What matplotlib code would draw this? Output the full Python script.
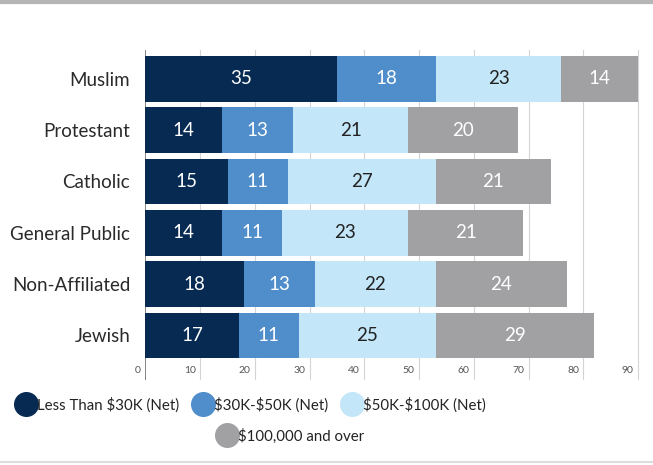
import matplotlib.pyplot as plt
from matplotlib.lines import Line2D

# Daten
groups = ["Muslim", "Protestant", "Catholic", "General Public", "Non-Affiliated", "Jewish"]
under_30k = [35, 14, 15, 14, 18, 17]
k30_50 = [18, 13, 11, 11, 13, 11]
k50_100 = [23, 21, 27, 23, 22, 25]
over_100k = [14, 20, 21, 21, 24, 29]
series_names = ["Less Than $30K (Net)", "$30K-$50K (Net)", "$50K-$100K (Net)", "$100,000 and over"]
ticks = [0, 10, 20, 30, 40, 50, 60, 70, 80, 90]

colors = ["#072a52", "#4f8dcb", "#c3e6f9", "#a1a1a4"]
text_colors = ["white", "white", "#222222", "white"]

plt.rcParams["font.family"] = ["Lato", "DejaVu Sans"]
plt.rcParams["text.parse_math"] = False

fig = plt.figure(figsize=(6.53, 4.65), dpi=100)
ax = fig.add_axes([0.2228, 0.1828, 0.767, 0.7097])

series = [under_30k, k30_50, k50_100, over_100k]
ypos = list(range(len(groups)))
left = [0] * len(groups)
for vals, col, tcol, name in zip(series, colors, text_colors, series_names):
    ax.barh(ypos, vals, left=left, height=0.89, color=col, label=name, zorder=2)
    for y, v, l in zip(ypos, vals, left):
        ax.text(l + v / 2, y, str(v), ha="center", va="center", color=tcol, fontsize=13.5, zorder=3)
    left = [a + b for a, b in zip(left, vals)]

# Gitter und Achse
for t in ticks:
    ax.axvline(t, color="#7a7a7a" if t == 0 else "#d4d4d4", lw=1.3 if t == 0 else 0.8, zorder=1)
    ax.text(t - 0.8, 5.69, str(t), ha="right", va="center", fontsize=7.5, color="#555555")

ax.set_xlim(0, 91.5)
ax.set_ylim(5.87, -0.56)
ax.set_yticks(ypos)
ax.set_yticklabels(groups, fontsize=13.5, color="#2a2a2a")
ax.tick_params(axis="y", length=0, pad=11)
ax.set_xticks([])
for s in ax.spines.values():
    s.set_visible(False)

# Legende in zwei Zeilen
handles = [Line2D([], [], marker="o", ls="", markersize=17, markerfacecolor=c, markeredgecolor=c)
           for c in colors]
fig.legend(handles[:3], series_names[:3], loc="center", bbox_to_anchor=(251 / 653, 1 - 405 / 465),
           ncol=3, frameon=False, fontsize=10.8, handletextpad=0.1, columnspacing=0.9,
           handlelength=1.3, borderaxespad=0, borderpad=0, labelcolor="#222222")
fig.legend(handles[3:], series_names[3:], loc="center", bbox_to_anchor=(291 / 653, 1 - 436 / 465),
           frameon=False, fontsize=10.8, handletextpad=0.1, handlelength=1.3, borderpad=0,
           labelcolor="#222222")

# Linien oben und unten
fig.add_artist(Line2D([0, 1], [1 - 2.5 / 465, 1 - 2.5 / 465], color="#b5b5b5", lw=3))
fig.add_artist(Line2D([0, 1], [1 - 462 / 465, 1 - 462 / 465], color="#dddddd", lw=1.5))

plt.savefig("out.png", dpi=100)
